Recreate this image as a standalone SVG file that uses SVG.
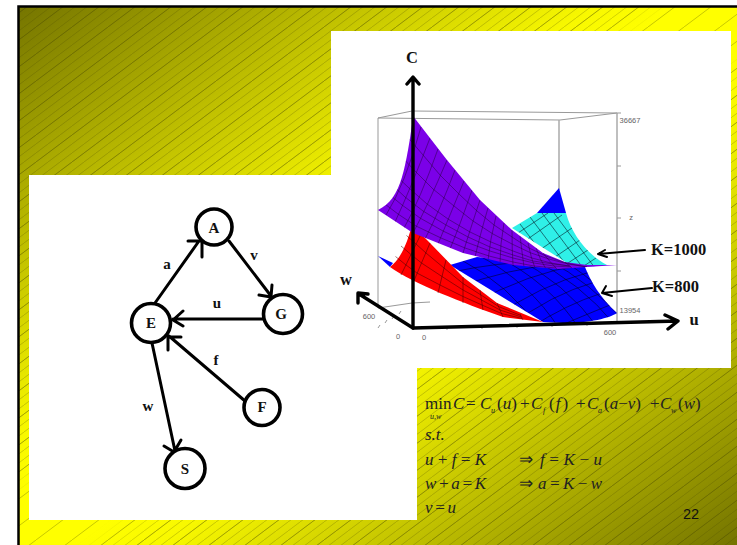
<svg xmlns="http://www.w3.org/2000/svg" width="737" height="545" viewBox="0 0 737 545">
<style>
.n{fill:#fff;stroke:#000;stroke-width:3.6}
.e{fill:none;stroke:#000;stroke-width:3;stroke-linecap:round;stroke-linejoin:round}
.t{font-family:"Liberation Serif",serif;font-weight:bold;fill:#111;text-anchor:middle}
.k{font-family:"Liberation Serif",serif;font-weight:bold;fill:#111;font-size:16.500px}
.m{font-family:"Liberation Serif",serif;font-size:17px;fill:#222}
.s{font-family:"Liberation Serif",serif;font-size:8px;font-style:italic;fill:#222}
.i{font-style:italic}
.g{font-family:"Liberation Sans",sans-serif;font-size:7.500px;fill:#666;text-anchor:middle}
.b{fill:none;stroke:#999;stroke-width:1}
.b2{fill:none;stroke:#aaa;stroke-width:1.500}
.gv{fill:none;stroke:#200030;stroke-opacity:.65;stroke-width:.7}
.gr{fill:none;stroke:#400;stroke-opacity:.75;stroke-width:.7}
.gb{fill:none;stroke:#001;stroke-opacity:.75;stroke-width:.7}
.ax{fill:none;stroke:#000;stroke-width:3.400;stroke-linecap:round;stroke-linejoin:round}
.lead{fill:none;stroke:#000;stroke-width:2;stroke-linecap:round;stroke-linejoin:round}
</style>
<defs>
<linearGradient id="bg" x1="0" y1="0" x2="1" y2="1">
<stop offset="0" stop-color="#747400"/>
<stop offset=".4" stop-color="#f8f800"/>
<stop offset=".46" stop-color="#ffff00"/>
<stop offset=".54" stop-color="#ffff00"/>
<stop offset=".6" stop-color="#f8f800"/>
<stop offset="1" stop-color="#747400"/>
</linearGradient>
<linearGradient id="mk" x1="0" y1="0" x2="1" y2="1">
<stop offset=".42" stop-color="#fff"/>
<stop offset=".46" stop-color="#000"/>
<stop offset=".54" stop-color="#000"/>
<stop offset=".58" stop-color="#fff"/>
</linearGradient>
<mask id="dense" maskUnits="userSpaceOnUse" x="18" y="6" width="719" height="539"><rect x="18" y="6" width="719" height="539" fill="url(#mk)"/></mask>
<pattern id="hatch" width="12" height="9" patternUnits="userSpaceOnUse">
<path d="M-1 9.750L13 -.750" stroke="#4a4a00" stroke-opacity=".32" stroke-width=".8" fill="none"/>
</pattern>
<pattern id="hatch2" width="36" height="27" patternUnits="userSpaceOnUse">
<path d="M-1 27.750L37 -.750" stroke="#4a4a00" stroke-opacity=".38" stroke-width=".8" fill="none"/>
</pattern>
<clipPath id="cb"><path d="M450 265L477 257L585 267C590 280 600 298 617 313C610 318 590 323 563 323L543 322Z"/></clipPath>
<clipPath id="cc"><path d="M512 228L537 213H566C572 235 588 255 607 265L575 268Z"/></clipPath>
<clipPath id="cp"><path d="M413 116C411 135 406 165 402 177C397 194 390 204 378 210L413 233L463 253L513 265L557 269L587 267L617 265L587 265L565 262L543 253L512 230L480 200L447 160Z"/></clipPath>
</defs>
<rect width="737" height="545" fill="#fff"/>
<g id="background">
<rect x="18" y="6" width="719" height="539" fill="url(#bg)"/>
<rect x="18" y="6" width="719" height="539" fill="url(#hatch)" mask="url(#dense)"/>
<rect x="18" y="6" width="719" height="539" fill="url(#hatch2)"/>
<path d="M18.500 545V6.500H737" fill="none" stroke="#000" stroke-width="2.500"/>
<rect x="331" y="31" width="400" height="337" fill="#fff"/>
<rect x="29" y="175" width="388" height="345" fill="#fff"/>
</g>
<g id="plot">
<path class="b" d="M378 118L412 111L617 113L560 120ZM378 118V308M378 308L412 303L430 302"/>
<path class="b2" d="M559 120V190M617 113V323"/>
<path class="b" d="M617 166h4M617 218h4M617 271h4M617 113h4"/>
<path class="b" d="M380 325l-2 3M387 320l-2 3M394 316l-2 3M401 311l-2 3M447 327v3M482 326v3M517 325v3M552 324v3M587 323v3"/>
<path fill="#00f" d="M559 188L566 213H537Z"/>
<path fill="#2ff0e8" d="M512 228L537 213H566C572 235 588 255 607 265L575 268Z"/>
<g clip-path="url(#cc)"><path class="gb" d="M554 213L595 268M542 213L583 268M530 217L570 270M520 224L555 270M562 215L512 250M572 228L522 262M580 240L530 274M588 250L548 276M596 258L570 275M548 213L515 235"/></g>
<path fill="#00f" d="M378 256L393 263L390 267Z"/>
<path fill="#00f" d="M450 265L477 257L585 267C590 280 600 298 617 313C610 318 590 323 563 323L543 322Z"/>
<g clip-path="url(#cb)"><path class="gb" d="M440 262Q490 290 520 330M458 258Q510 285 540 330M476 254Q530 282 560 330M494 255Q550 282 580 330M512 256Q565 282 600 330M530 258Q580 282 615 325M548 260Q590 282 625 322M566 262Q600 285 630 315M590 272Q540 285 490 320M595 282Q550 295 510 326M602 293Q565 305 530 328M610 305Q585 315 550 330M582 265Q530 272 470 305M560 264Q510 268 455 288M535 262Q500 262 452 272"/></g>
<path fill="#f00" d="M412 225C408 240 402 258 390 267C414 284 463 303 503 317L543 322L497 303L463 277L430 243Z"/>
<path class="gr" d="M406.500 235.500L416 244L426 253L444 268L463 283.500L481 295L498.500 306.500L521 315.500M401 246L411 254.500L421.500 263L442 276.500L463 290L481.500 300L500 310L521.500 317M395.500 256.500L406 265L417 273L440 285L463 296.500L482 305L501.500 313.500L522 318.500M421 234L401 275M430 243L413 283M446 260L438 293M463 277V303M480 290L483 310M497 303L503 317M520 314L523 320"/>
<path fill="#7b00e8" d="M413 116C411 135 406 165 402 177C397 194 390 204 378 210L413 233L463 253L513 265L557 269L587 267L617 265L587 265L565 262L543 253L512 230L480 200L447 160Z"/>
<g clip-path="url(#cp)">
<path class="gv" d="M406 135L423 155L440 175L459 194L477 211L494 225L512 237L529 248L546 256L566 263L587 267M399 154L416 172L433 189L454 206L473 221L493 234L512 244L531 253L549 259L568 264L587 267M392 172L409 188L427 204L448 219L470 232L491 242L513 251L532 258L551 263L569 266M389 182L405 197L423 211L446 225L468 237L490 247L513 255L533 261L553 264L570 266M385 191L402 205L420 218L443 231L466 242L490 251L513 258L534 263L554 266L571 267M381 201L398 214L416 226L441 238L465 248L489 256L513 262L534 266L556 268"/>
<path class="gv" d="M430 138Q410 190 395 222M447 160Q428 205 413 233M464 181Q450 215 438 244M480 200Q470 230 463 253M496 216Q490 240 488 260M512 230Q512 250 513 265M528 243Q531 258 535 268M543 253Q550 262 557 269M565 262L572 268M421 127Q405 185 386 215M438 149Q420 200 404 228M455 170Q440 210 425 239M472 190Q460 225 450 249M488 208Q480 235 475 257M504 223Q500 245 500 263M520 236Q522 252 524 267M536 248Q540 260 546 269"/>
</g>
<text class="g" x="630" y="123">36667</text><text class="g" x="631" y="220">z</text><text class="g" x="630" y="313">13954</text>
<text class="g" x="369" y="319">600</text><text class="g" x="398" y="339">0</text><text class="g" x="424" y="340">0</text><text class="g" x="610" y="335">600</text>
<path class="ax" d="M413 327V78M407 84L413 77L419 84"/>
<path class="ax" d="M413 328L359 294M358 303L358 293L368 294"/>
<path class="ax" d="M413 328L678 321M665 315L678 321L668 329"/>
<path class="lead" d="M645 250L598 254M605 250L598 254L607 257"/>
<path class="lead" d="M652 288L602 293M606 286L602 293L612 296"/>
<text class="t" x="412" y="63" font-size="16.500">C</text>
<text class="t" x="346" y="285" font-size="16.500">w</text>
<text class="t" x="694" y="325" font-size="16.500">u</text>
<text class="k" x="651" y="255">K=1000</text>
<text class="k" x="652" y="292">K=800</text>
</g>
<g id="connectors">
<path class="e" d="M155 303L199 241M188 241L202 241L202 257"/>
<path class="e" d="M229 241L271 296M259 295L271 297L272 285"/>
<path class="e" d="M263 319H173M183 311L173 320L183 326"/>
<path class="e" d="M245 401L169 336M168 350L168 337L181 337"/>
<path class="e" d="M152 343L175 451M164 446L174 452L181 440"/>
</g>
<g id="node-A"><circle class="n" cx="214" cy="227" r="18"/><text class="t" x="214" y="233" font-size="15">A</text></g>
<g id="node-G"><circle class="n" cx="283" cy="314" r="19.500"/><text class="t" x="281" y="319" font-size="15">G</text></g>
<g id="node-E"><circle class="n" cx="151" cy="323" r="19.500"/><text class="t" x="151" y="328" font-size="15">E</text></g>
<g id="node-F"><circle class="n" cx="262" cy="407.500" r="18"/><text class="t" x="262" y="412" font-size="15">F</text></g>
<g id="node-S"><circle class="n" cx="185" cy="468.500" r="20"/><text class="t" x="185" y="474" font-size="15">S</text></g>
<g id="edge-labels">
<text class="t" x="167" y="269" font-size="15">a</text>
<text class="t" x="254" y="260" font-size="15">v</text>
<text class="t" x="217" y="308" font-size="15">u</text>
<text class="t" x="216" y="365" font-size="15">f</text>
<text class="t" x="148" y="411" font-size="15">w</text>
</g>
<g id="equations">
<text class="m" x="425" y="409">min</text>
<text class="s" x="430" y="419">u,w</text>
<text class="m i" x="453" y="409">C</text><text class="m" x="466" y="409">=</text><text class="m i" x="480" y="409">C</text>
<text class="s" x="491" y="413">u</text>
<text class="m" x="497" y="409">(<tspan class="i">u</tspan>)</text><text class="m" x="520" y="409">+</text><text class="m i" x="531" y="409">C</text>
<text class="s" x="543" y="413">f</text>
<text class="m" x="549" y="409">(<tspan class="i" dx="1">f</tspan><tspan dx="2">)</tspan></text><text class="m" x="576" y="409">+</text><text class="m i" x="587" y="409">C</text>
<text class="s" x="598" y="413">a</text>
<text class="m" x="604" y="409">(<tspan class="i">a</tspan>−<tspan class="i">v</tspan>)</text><text class="m" x="650" y="409">+</text><text class="m i" x="660" y="409">C</text>
<text class="s" x="671" y="413">w</text>
<text class="m" x="678" y="409">(<tspan class="i">w</tspan>)</text>
<text class="m i" x="425" y="440">s.t.</text>
<text class="m i" x="425" y="465" textLength="61">u + f = K</text>
<text class="m i" x="425" y="489" textLength="61">w + a = K</text>
<text class="m i" x="425" y="513" textLength="31">v = u</text>
<text class="m" x="519" y="465">⇒</text><text class="m i" x="540" y="465" textLength="62">f = K − u</text>
<text class="m" x="519" y="489">⇒</text><text class="m i" x="538" y="489" textLength="64">a = K − w</text>
<text x="691" y="519" font-family="'Liberation Sans',sans-serif" font-size="14.500" text-anchor="middle" fill="#111">22</text>
</g>
</svg>
